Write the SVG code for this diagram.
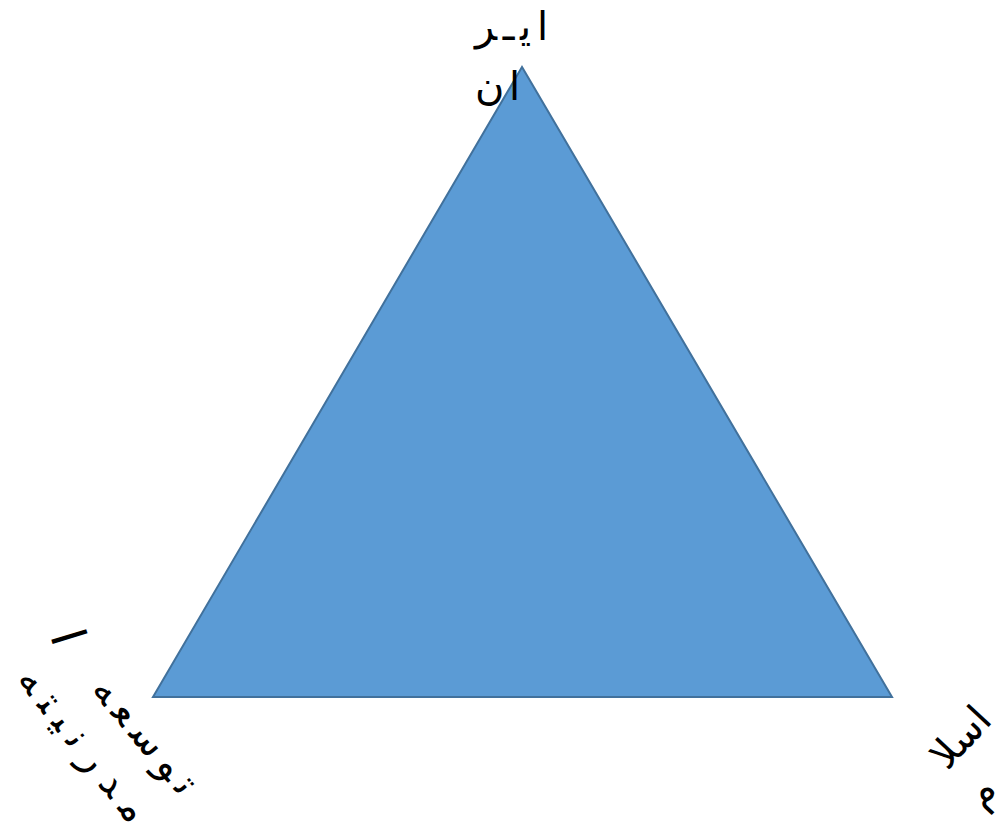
<svg xmlns="http://www.w3.org/2000/svg" width="1005" height="830" viewBox="0 0 1005 830">
<style>
.lbl{font-family:"DejaVu Sans","Liberation Sans",sans-serif;font-size:40px;fill:#000;direction:rtl;unicode-bidi:plaintext}
</style>
<rect width="1005" height="830" fill="#fff"/>
<g id="triangle">
<polygon points="522,67 153,697 892,697" fill="#5B9BD5" stroke="#41719C" stroke-width="2"/>
</g>
<g id="label-top">
<text class="lbl" x="548" y="40" text-anchor="start" textLength="73" lengthAdjust="spacing">ایـر</text>
<text class="lbl" x="520" y="100" text-anchor="start" textLength="45" lengthAdjust="spacing">ان</text>
</g>
<g id="label-left">
<g transform="translate(55,652) rotate(73)">
<text class="lbl" x="-4" y="0" style="font-size:48px">ا</text>
</g>
<text class="lbl" transform="translate(146,735) rotate(50)" text-anchor="middle" dy="14" textLength="140" lengthAdjust="spacing">توسعه</text>
<text class="lbl" transform="translate(84,744) rotate(52)" text-anchor="middle" dy="14" textLength="185" lengthAdjust="spacing">مدرنیته</text>
</g>
<g id="label-right">
<text class="lbl" transform="translate(960,737) rotate(-47)" text-anchor="middle" dy="14">اسلا</text>
<text class="lbl" transform="translate(981,792) rotate(-47)" text-anchor="middle" dy="14">م</text>
</g>
</svg>
